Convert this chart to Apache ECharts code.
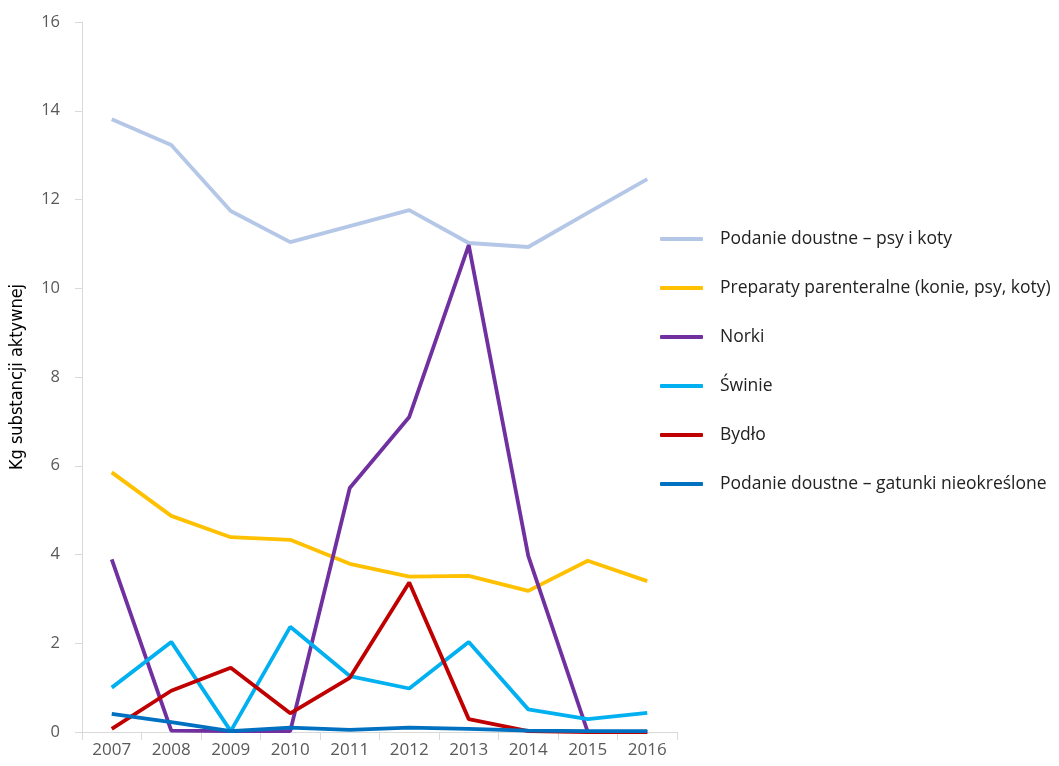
<!DOCTYPE html>
<html>
<head>
<meta charset="utf-8">
<script src="https://cdn.jsdelivr.net/npm/echarts@6/dist/echarts.min.js"></script>
<style>
  html, body { margin: 0; padding: 0; background: #fff; }
  #chart { width: 1059px; height: 766px; }
</style>
</head>
<body>
<div id="chart"></div>
<script>
var years = ["2007", "2008", "2009", "2010", "2011", "2012", "2013", "2014", "2015", "2016"];
var psyKoty = [13.81, 13.23, 11.74, 11.04, 11.40, 11.76, 11.02, 10.93, 11.70, 12.46];
var parenteralne = [5.85, 4.87, 4.39, 4.33, 3.79, 3.50, 3.52, 3.18, 3.86, 3.40];
var norki = [3.89, 0.03, 0.02, 0.02, 5.50, 7.10, 10.97, 3.97, 0.0, 0.0];
var swinie = [1.00, 2.03, 0.02, 2.37, 1.26, 0.98, 2.03, 0.51, 0.29, 0.43];
var bydlo = [0.07, 0.93, 1.45, 0.42, 1.22, 3.37, 0.29, 0.02, 0.0, 0.0];
var gatunki = [0.41, 0.22, 0.02, 0.10, 0.05, 0.10, 0.07, 0.03, 0.02, 0.02];

var names = [
  "Podanie doustne – psy i koty",
  "Preparaty parenteralne (konie, psy, koty)",
  "Norki",
  "Świnie",
  "Bydło",
  "Podanie doustne – gatunki nieokreślone"
];
var colors = ["#b4c7e7", "#ffc000", "#7030a0", "#00b0f0", "#c00000", "#0070c0"];
var values = [psyKoty, parenteralne, norki, swinie, bydlo, gatunki];

var chart = echarts.init(document.getElementById("chart"));

var series = [];
for (var i = 0; i < names.length; i++) {
  series.push({
    name: names[i],
    type: "line",
    data: values[i],
    symbol: "none",
    lineStyle: { width: 3.8, color: colors[i] },
    itemStyle: { color: colors[i] },
    z: 2 + i
  });
}

var option = {
  animation: false,
  backgroundColor: "#fff",
  grid: { left: 81, right: 382, top: 22, bottom: 34 },
  legend: {
    orient: "vertical",
    left: 655,
    top: 224,
    icon: "roundRect",
    itemWidth: 43,
    itemHeight: 4,
    itemGap: 29,
    textStyle: { fontSize: 17.5, color: "#222", fontFamily: "Open Sans", lineHeight: 20, padding: [0, 0, 0, 12] },
    data: names
  },
  xAxis: {
    type: "category",
    data: years,
    boundaryGap: true,
    axisLine: { lineStyle: { color: "#d9d9d9", width: 1 } },
    axisTick: { show: true, length: 8, lineStyle: { color: "#d9d9d9" } },
    axisLabel: { color: "#595959", fontSize: 17, fontFamily: "Open Sans", margin: 10 },
    splitLine: { show: false }
  },
  yAxis: {
    type: "value",
    min: 0,
    max: 16,
    interval: 2,
    name: "Kg substancji aktywnej",
    nameLocation: "middle",
    nameGap: 56,
    nameTextStyle: { fontSize: 18, color: "#000", fontFamily: "DejaVu Sans Condensed" },
    axisLine: { show: true, lineStyle: { color: "#d9d9d9", width: 1 } },
    axisTick: { show: true, length: 7, lineStyle: { color: "#d9d9d9" } },
    axisLabel: { color: "#595959", fontSize: 16.5, fontFamily: "Open Sans", margin: 22 },
    splitLine: { show: false }
  },
  series: series
};

chart.setOption(option);
</script>
</body>
</html>
